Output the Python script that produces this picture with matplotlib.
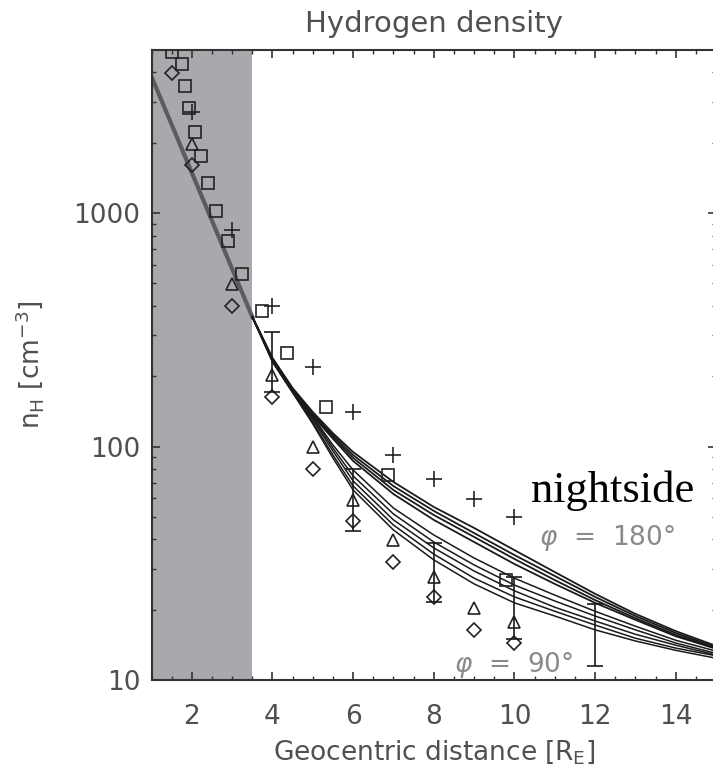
import numpy as np
import matplotlib
matplotlib.use('Agg')
import matplotlib.pyplot as plt
from matplotlib.ticker import MultipleLocator, LogLocator, NullFormatter

# model curves, radial grid [R_E]
r_model = [3.5, 4, 4.5, 5, 5.5, 6, 7, 8, 9, 10, 11, 12, 13, 14, 15]
# from phi = 180 deg (top bundle) down to phi = 90 deg (lowest)
n_180 = [359, 239, 178, 140.5, 114, 94.7, 70.5, 55.1, 44.8, 36.0, 29.0, 23.4, 19.2, 16.2, 14.0]
n_165 = [359, 239, 176, 138, 112, 91.9, 67.7, 53.0, 42.6, 34.3, 27.9, 22.7, 18.8, 15.9, 13.8]
n_150 = [359, 237, 175, 136, 110, 89.3, 65.1, 50.9, 41.0, 33.0, 26.8, 22.0, 18.4, 15.6, 13.7]
n_135 = [359, 237, 175, 135, 108, 86.7, 62.6, 48.5, 39.0, 31.4, 25.8, 21.4, 18.1, 15.4, 13.6]
n_130 = [359, 235, 173, 134, 101.5, 79.3, 54.5, 41.8, 33.3, 27.3, 23.1, 19.7, 17.0, 14.8, 13.3]
n_120 = [359, 235, 173, 132.5, 98.5, 74.8, 51.4, 39.0, 31.1, 25.5, 21.8, 18.8, 16.4, 14.4, 13.0]
n_110 = [359, 232, 171, 130, 95.6, 71.2, 48.5, 36.8, 29.3, 24.1, 20.5, 17.9, 15.7, 14.1, 12.8]
n_100 = [359, 232, 171, 127, 91.9, 67.7, 46.1, 34.6, 27.3, 22.7, 19.7, 17.2, 15.1, 13.7, 12.7]
n_90 = [359, 230, 170, 125, 89.3, 65.1, 43.9, 32.7, 25.8, 21.4, 18.8, 16.4, 14.7, 13.4, 12.4]
curves = [n_180, n_165, n_150, n_135, n_130, n_120, n_110, n_100, n_90]

# inner (shaded) region fit
r_inner = [1.0, 3.5]
n_inner = [3840, 359]

# observations
sq_r = [1.50, 1.75, 1.83, 1.94, 2.08, 2.22, 2.39, 2.61, 2.90, 3.25, 3.73, 4.37, 5.32, 6.87, 9.78]
sq_n = [4910, 4335, 3500, 2826, 2228, 1754, 1340, 1021, 759, 546, 382, 251, 147, 75.5, 26.8]

plus_r = [2, 3, 4, 5, 6, 7, 8, 9, 10]
plus_n = [2717, 845, 400, 220, 140, 92, 72.6, 59.6, 49.8]

tri_r = [2, 3, 4, 5, 6, 7, 8, 9, 10]
tri_n = [1968, 497, 202, 99.7, 59, 39.8, 27.7, 20.3, 17.8]

dia_r = [1.5, 2, 3, 4, 5, 6, 7, 8, 9, 10]
dia_n = [3990, 1606, 400, 163, 79.8, 48.1, 31.9, 22.6, 16.4, 14.4]

# error bars
err_r = [4, 6, 8, 10, 12]
err_lo = [172, 43.6, 21.5, 15.0, 11.5]
err_hi = [308, 79.8, 38.7, 27.5, 21.2]

plt.rcParams['font.family'] = 'DejaVu Sans'
plt.rcParams['mathtext.fontset'] = 'dejavusans'
txt_col = '#505050'

fig = plt.figure(figsize=(7.13, 7.68), dpi=100)
ax = fig.add_axes([151.5 / 713, 88 / 768, (716 - 151.5) / 713, 630 / 768])

ax.axvspan(1, 3.5, color='#a9a9ad', lw=0, zorder=0)
ax.plot(r_inner, n_inner, color='#5c5c60', lw=3, zorder=2)

for i, c in enumerate(curves):
    ax.plot(r_model, c, color='#1a1a1a', lw=1.3 if i < 4 else 1.1, zorder=3)

mk = dict(linestyle='none', markerfacecolor='none', markeredgecolor='#222222',
          markeredgewidth=1.2, zorder=4)
ax.plot(sq_r, sq_n, marker='s', markersize=9, **mk)
ax.plot(plus_r, plus_n, marker='+', markersize=11, **mk)
ax.plot(tri_r, tri_n, marker='^', markersize=9, **mk)
ax.plot(dia_r, dia_n, marker='D', markersize=7, **mk)

err_c = np.array(err_lo) + (np.array(err_hi) - np.array(err_lo)) / 2
ax.errorbar(err_r, err_c,
            yerr=[err_c - np.array(err_lo), np.array(err_hi) - err_c],
            fmt='none', ecolor='#1a1a1a', elinewidth=1.2, capsize=6,
            capthick=1.2, zorder=4)

ax.set_yscale('log')
ax.set_xlim(1, 15)
ax.set_ylim(10, 4990)
ax.xaxis.set_major_locator(MultipleLocator(2))
ax.xaxis.set_minor_locator(MultipleLocator(0.5))
ax.set_xticks([2, 4, 6, 8, 10, 12, 14])
ax.set_yticks([10, 100, 1000])
ax.set_yticklabels(['10', '100', '1000'])
ax.yaxis.set_minor_locator(LogLocator(base=10, subs=np.arange(2, 10)))
ax.yaxis.set_minor_formatter(NullFormatter())

ax.tick_params(which='both', direction='in', top=True, right=True,
               color='#333333', labelcolor=txt_col, labelsize=19)
ax.tick_params(which='major', length=6, width=1.2)
ax.tick_params(which='minor', length=3, width=1.0)
ax.tick_params(axis='x', pad=17)
ax.tick_params(axis='y', pad=8)
for s in ax.spines.values():
    s.set_color('#333333')
    s.set_linewidth(1.5)

ax.set_xlabel(r'Geocentric distance [R$_\mathrm{E}$]', fontsize=19,
              color=txt_col, labelpad=6)
fig.text(30 / 713, 1 - 365 / 768, r'n$_\mathrm{H}$ [cm$^{-3}$]', fontsize=19,
         color=txt_col, rotation=90, ha='center', va='center')
fig.text(434 / 713, 1 - 24 / 768, 'Hydrogen density', fontsize=21,
         color=txt_col, ha='center', va='center')

ax.text(10.4, 58, 'nightside', family='Liberation Serif', fontsize=32,
        color='black', ha='left', va='baseline', zorder=5)
ax.text(10.6, 40.5, r'$\varphi$  =  180°', fontsize=19, color='#8a8a8a',
        ha='left', va='center', zorder=5)
ax.text(8.5, 11.6, r'$\varphi$  =  90°', fontsize=19, color='#8a8a8a',
        ha='left', va='center', zorder=5)

fig.savefig('out.png', dpi=100)
